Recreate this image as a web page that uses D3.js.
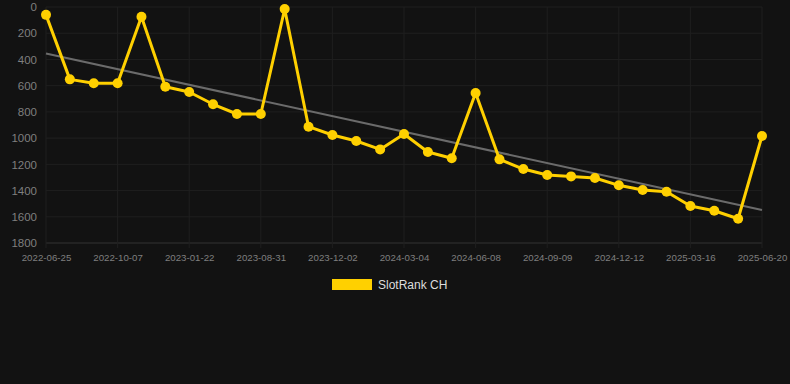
<!DOCTYPE html>
<html>
<head>
<meta charset="utf-8">
<script src="https://cdn.jsdelivr.net/npm/d3@7"></script>
<style>
  html, body { margin: 0; padding: 0; background: #121212; }
  svg { display: block; font-family: "Liberation Sans", Arial, sans-serif; }
</style>
</head>
<body>
<div id="chart"></div>
<script>
// rank per observation (lower = better), 31 observations, evenly spaced
var ranks = [60, 552, 582, 582, 74, 608, 648, 742, 816, 816,
             15, 913, 976, 1022, 1086, 969, 1106, 1154, 656, 1162,
             1236, 1281, 1292, 1304, 1360, 1396, 1409, 1518, 1554, 1615, 984];

// only every third date is shown on the axis
var tickLabels = ["2022-06-25", "2022-10-07", "2023-01-22", "2023-08-31", "2023-12-02",
                  "2024-03-04", "2024-06-08", "2024-09-09", "2024-12-12", "2025-03-16", "2025-06-20"];
var tickEvery = 3;

var yTicks = [0, 200, 400, 600, 800, 1000, 1200, 1400, 1600, 1800];
var seriesName = "SlotRank CH";

var W = 790, H = 384;
var margin = { top: 7, right: 28, bottom: 141, left: 46 },
    width = W - margin.left - margin.right,
    height = H - margin.top - margin.bottom;

var svg = d3.select("#chart").append("svg")
    .attr("width", W)
    .attr("height", H);

svg.append("rect").attr("width", W).attr("height", H).attr("fill", "#121212");

var g = svg.append("g")
    .attr("transform", "translate(" + margin.left + "," + margin.top + ")");

var idx = d3.range(ranks.length);
var x = d3.scaleLinear().domain([0, ranks.length - 1]).range([0, width]);
var y = d3.scaleLinear().domain([0, 1800]).range([0, height]);

var tickIdx = tickLabels.map(function(d, i) { return i * tickEvery; });

// grid
g.append("g")
    .selectAll("line.h")
    .data(yTicks)
    .enter().append("line")
    .attr("x1", 0).attr("x2", width)
    .attr("y1", function(d) { return y(d); })
    .attr("y2", function(d) { return y(d); })
    .attr("stroke", function(d) { return d === 1800 ? "#333" : "#1f1f1f"; })
    .attr("stroke-width", 1);

g.append("g")
    .selectAll("line.v")
    .data(tickIdx)
    .enter().append("line")
    .attr("x1", function(d) { return x(d); })
    .attr("x2", function(d) { return x(d); })
    .attr("y1", 0).attr("y2", height + 5)
    .attr("stroke", "#1f1f1f")
    .attr("stroke-width", 1);

// axes
var yAxis = g.append("g")
    .call(d3.axisLeft(y).tickValues(yTicks).tickFormat(d3.format("d"))
        .tickSize(0).tickPadding(9));
yAxis.select(".domain").remove();
yAxis.selectAll("text")
    .attr("fill", "#7f7f7f")
    .style("font-size", "11.5px")
    .style("font-family", "Liberation Sans, Arial, sans-serif");

var xAxis = g.append("g")
    .attr("transform", "translate(0," + height + ")")
    .call(d3.axisBottom(x).tickValues(tickIdx)
        .tickFormat(function(d) { return tickLabels[d / tickEvery]; })
        .tickSize(0).tickPadding(11));
xAxis.select(".domain").remove();
xAxis.selectAll("text")
    .attr("fill", "#7f7f7f")
    .style("font-size", "9.7px")
    .style("font-family", "Liberation Sans, Arial, sans-serif");

// trend line (least squares)
var n = ranks.length,
    mx = d3.mean(idx),
    my = d3.mean(ranks),
    sxy = d3.sum(idx, function(i) { return (i - mx) * (ranks[i] - my); }),
    sxx = d3.sum(idx, function(i) { return (i - mx) * (i - mx); }),
    slope = sxy / sxx,
    icpt = my - slope * mx;

g.append("line")
    .attr("x1", x(0)).attr("y1", y(icpt))
    .attr("x2", x(n - 1)).attr("y2", y(icpt + slope * (n - 1)))
    .attr("stroke", "#6b6b6b")
    .attr("stroke-width", 2);

// series
g.append("path")
    .datum(idx)
    .attr("fill", "none")
    .attr("stroke", "#ffd000")
    .attr("stroke-width", 3)
    .attr("stroke-linejoin", "round")
    .attr("d", d3.line()
        .x(function(i) { return x(i); })
        .y(function(i) { return y(ranks[i]); }));

g.selectAll(".dot")
    .data(idx)
    .enter().append("circle")
    .attr("class", "dot")
    .attr("r", 5)
    .attr("cx", function(i) { return x(i); })
    .attr("cy", function(i) { return y(ranks[i]); })
    .attr("fill", "#ffd000");

// legend
var legend = svg.append("g").attr("transform", "translate(332,279)");
legend.append("rect")
    .attr("width", 40).attr("height", 11)
    .attr("fill", "#ffd000");
legend.append("text")
    .attr("x", 46).attr("y", 9.5)
    .attr("fill", "#dddddd")
    .style("font-size", "12px")
    .text(seriesName);
</script>
</body>
</html>
